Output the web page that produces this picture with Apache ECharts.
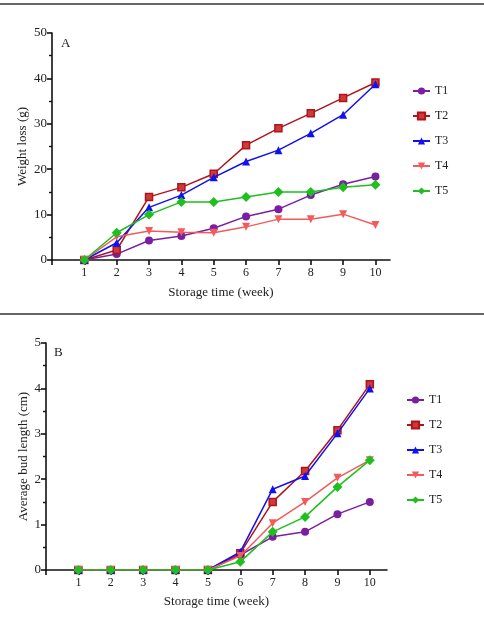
<!DOCTYPE html>
<html>
<head>
<meta charset="utf-8">
<script src="https://cdn.jsdelivr.net/npm/echarts@6/dist/echarts.min.js"></script>
<style>
    html, body { margin: 0; padding: 0; background: #fff; }
    #chart { width: 484px; height: 623px; }
</style>
</head>
<body>
<div id="chart"></div>
<script>
const weeks = [1, 2, 3, 4, 5, 6, 7, 8, 9, 10]
const seriesNames = ['T1', 'T2', 'T3', 'T4', 'T5']

// A - weight loss (g)
const weightT1 = [0, 1.3, 4.3, 5.3, 7.0, 9.6, 11.2, 14.3, 16.7, 18.4]
const weightT2 = [0, 2.2, 13.9, 16.0, 19.0, 25.3, 29.0, 32.3, 35.7, 39.1]
const weightT3 = [0, 3.8, 11.6, 14.3, 18.2, 21.7, 24.2, 27.9, 32.0, 38.7]
const weightT4 = [0, 5.1, 6.4, 6.1, 6.0, 7.3, 9.0, 9.0, 10.1, 7.7]
const weightT5 = [0, 6.0, 10.0, 12.8, 12.8, 13.9, 15.0, 15.0, 16.0, 16.6]

// B - average bud length (cm)
const budT1 = [0, 0, 0, 0, 0, 0.33, 0.73, 0.84, 1.23, 1.5]
const budT2 = [0, 0, 0, 0, 0, 0.37, 1.5, 2.18, 3.08, 4.09]
const budT3 = [0, 0, 0, 0, 0, 0.4, 1.78, 2.07, 3.01, 4.0]
const budT4 = [0, 0, 0, 0, 0, 0.31, 1.03, 1.5, 2.03, 2.42]
const budT5 = [0, 0, 0, 0, 0, 0.18, 0.84, 1.17, 1.83, 2.42]

const colors = ['#7a1fa2', '#b0141a', '#1010f0', '#f45a5a', '#1fbf1f']
const symbols = ['circle', 'rect', 'triangle', 'path://M0,0 L10,0 L5,9 Z', 'diamond']
const symbolSizes = [8, 7, 8, 8, 10]

const FONT = 'Liberation Serif'

const toPairs = vals => vals.map((v, i) => [weeks[i], v])

const makeSeries = (lists, idx) => lists.map((vals, i) => ({
    name: seriesNames[i],
    type: 'line',
    xAxisIndex: idx,
    yAxisIndex: idx,
    data: toPairs(vals),
    symbol: symbols[i],
    symbolSize: symbolSizes[i],
    showAllSymbol: true,
    lineStyle: { color: colors[i], width: 1.5 },
    itemStyle: i === 1
        ? { color: '#cc3a3a', borderColor: colors[i], borderWidth: 1.5 }
        : { color: colors[i] },
    emphasis: { disabled: true },
    z: 2 + i,
}))

const xAxisCfg = (idx, max, gap) => ({
    type: 'value',
    gridIndex: idx,
    min: 0,
    max: max,
    name: 'Storage time (week)',
    nameLocation: 'middle',
    nameGap: gap,
    nameMoveOverlap: false,
    nameTextStyle: { fontFamily: FONT, fontSize: 13, color: '#222' },
    axisLine: { lineStyle: { color: '#111', width: 1.6 } },
    axisTick: { length: 5, lineStyle: { color: '#111', width: 1.6 }, customValues: [0].concat(weeks) },
    axisLabel: { fontFamily: FONT, fontSize: 12, color: '#222', margin: 7, customValues: weeks },
    splitLine: { show: false },
})

const yAxisCfg = (idx, max, interval, name, gap) => ({
    type: 'value',
    gridIndex: idx,
    min: 0,
    max: max,
    interval: interval,
    name: name,
    nameLocation: 'middle',
    nameGap: gap,
    nameMoveOverlap: false,
    nameTextStyle: { fontFamily: FONT, fontSize: 13, color: '#222' },
    axisLine: { show: true, lineStyle: { color: '#111', width: 1.6 } },
    axisTick: { show: true, length: 5, lineStyle: { color: '#111', width: 1.6 } },
    minorTick: { show: true, splitNumber: 2, length: 3, lineStyle: { color: '#111', width: 1.4 } },
    axisLabel: { fontFamily: FONT, fontSize: 13, color: '#222', margin: 5 },
    splitLine: { show: false },
    minorSplitLine: { show: false },
})

const legendCfg = (left, top) => ({
    data: seriesNames,
    orient: 'vertical',
    left: left,
    top: top,
    itemWidth: 17,
    itemHeight: 9,
    itemGap: 13,
    selectedMode: false,
    textStyle: { fontFamily: FONT, fontSize: 12, color: '#222' },
})

const myChart = echarts.init(document.getElementById('chart'), null, { renderer: 'canvas' })
myChart.setOption({
    animation: false,
    backgroundColor: '#fff',
    grid: [
        { left: 52, top: 33, width: 338, height: 227 },
        { left: 46, top: 343, width: 341, height: 227 },
    ],
    xAxis: [xAxisCfg(0, 10.45, 26), xAxisCfg(1, 10.53, 25)],
    yAxis: [
        yAxisCfg(0, 50, 10, 'Weight loss (g)', 23),
        yAxisCfg(1, 5, 1, 'Average bud length (cm)', 16),
    ],
    legend: [
        legendCfg(407, 80),
        legendCfg(401, 389),
    ],
    graphic: [
        { type: 'line', shape: { x1: 0, y1: 4, x2: 484, y2: 4 }, style: { stroke: '#666', lineWidth: 2 } },
        { type: 'line', shape: { x1: 0, y1: 314, x2: 484, y2: 314 }, style: { stroke: '#666', lineWidth: 2 } },
        { type: 'text', left: 61, top: 37, style: { text: 'A', font: '13px "Liberation Serif"', fill: '#222' } },
        { type: 'text', left: 54, top: 346, style: { text: 'B', font: '13px "Liberation Serif"', fill: '#222' } },
    ],
    series: makeSeries([weightT1, weightT2, weightT3, weightT4, weightT5], 0)
        .concat(makeSeries([budT1, budT2, budT3, budT4, budT5], 1)),
})
</script>
</body>
</html>
